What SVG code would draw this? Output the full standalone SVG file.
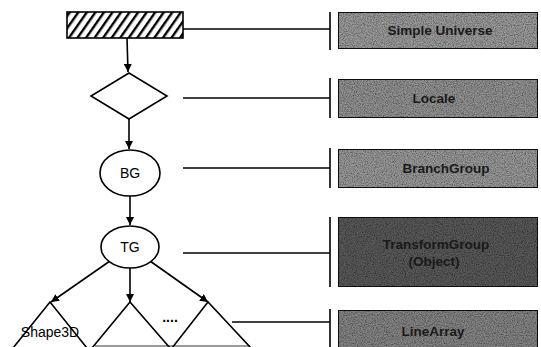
<svg xmlns="http://www.w3.org/2000/svg" width="541" height="347" viewBox="0 0 541 347">
<style>
.ln{stroke:#000;stroke-width:1.6;fill:none}
.shape{stroke:#000;stroke-width:1.6;fill:#fff}
.node{font-family:"Liberation Sans",Arial,sans-serif;font-size:14px;fill:#000;text-anchor:middle}
.lbl{font-family:"Liberation Sans",Arial,sans-serif;font-size:13.5px;font-weight:bold;fill:#1a1a1a;text-anchor:middle}
.box{stroke:#111;stroke-width:2}
.bar{stroke:#000;stroke-width:1.6}
</style>
<defs>
<pattern id="hatch" width="7" height="7" patternUnits="userSpaceOnUse" patternTransform="rotate(35)">
<rect width="7" height="7" fill="#fff"/>
<rect width="2.4" height="7" fill="#000"/>
</pattern>
<filter id="grain" x="0" y="0" width="1" height="1">
<feTurbulence type="fractalNoise" baseFrequency="0.9" numOctaves="2" seed="3" result="n"/>
<feColorMatrix in="n" type="matrix" values="0 0 0 0 0  0 0 0 0 0  0 0 0 0 0  0 0 0 1.4 -0.45" result="dark"/>
<feComposite in="dark" in2="SourceGraphic" operator="atop"/>
</filter>
<marker id="arr" viewBox="0 0 10 10" refX="10" refY="5" markerWidth="8" markerHeight="8" markerUnits="userSpaceOnUse" orient="auto">
<path d="M0,0 L10,5 L0,10 z" fill="#000"/>
</marker>
</defs>
<rect width="541" height="347" fill="#fff"/>

<g id="connectors">
<line class="ln" x1="127" y1="38" x2="128" y2="72" marker-end="url(#arr)"/>
<line class="ln" x1="129" y1="119" x2="129" y2="149" marker-end="url(#arr)"/>
<line class="ln" x1="130" y1="196" x2="130" y2="225" marker-end="url(#arr)"/>
<line class="ln" x1="110" y1="261" x2="51" y2="302" marker-end="url(#arr)"/>
<line class="ln" x1="130" y1="268" x2="130" y2="302" marker-end="url(#arr)"/>
<line class="ln" x1="150" y1="261" x2="208" y2="302" marker-end="url(#arr)"/>
<line class="ln" x1="183" y1="29" x2="330" y2="29"/>
<line class="ln" x1="183" y1="98" x2="330" y2="98"/>
<line class="ln" x1="183" y1="168" x2="330" y2="168"/>
<line class="ln" x1="183" y1="253" x2="330" y2="253"/>
<line class="ln" x1="232" y1="322" x2="330" y2="322"/>
<line class="bar" x1="330" y1="12" x2="330" y2="50"/>
<line class="bar" x1="330" y1="78" x2="330" y2="118"/>
<line class="bar" x1="330" y1="148" x2="330" y2="188"/>
<line class="bar" x1="330" y1="217" x2="330" y2="287"/>
<line class="bar" x1="330" y1="309" x2="330" y2="347"/>
</g>

<g id="universe">
<rect x="67" y="12" width="116" height="26" fill="url(#hatch)" stroke="#000" stroke-width="1.6"/>
</g>
<g id="locale">
<polygon class="shape" points="129,73 167,96 129,119 91,96"/>
</g>
<g id="bg">
<ellipse class="shape" cx="130" cy="173" rx="30" ry="23"/>
<text class="node" x="130" y="178">BG</text>
</g>
<g id="tg">
<ellipse class="shape" cx="130" cy="247" rx="29" ry="21"/>
<text class="node" x="130" y="252">TG</text>
</g>
<g id="shape1">
<path class="ln" d="M13,348 L50,302 L87,348"/>
<text class="node" x="50" y="337" style="font-size:14px">Shape3D</text>
</g>
<g id="shape2">
<path class="ln" d="M92,348 L130,302 L170,348"/>
</g>
<g id="dots">
<text class="node" x="170" y="322" style="font-size:14px;font-weight:bold">....</text>
</g>
<g id="shape3">
<path class="ln" d="M172,348 L208,302 L251,348"/>
<line x1="95" y1="346" x2="250" y2="346" stroke="#000" stroke-width="0.8"/>
</g>

<g id="lbl-universe">
<rect class="box" x="338" y="12" width="200" height="37" fill="#9c9c9c" filter="url(#grain)"/>
<text class="lbl" x="440" y="35">Simple Universe</text>
</g>
<g id="lbl-locale">
<rect class="box" x="338" y="79" width="200" height="39" fill="#939393" filter="url(#grain)"/>
<text class="lbl" x="434" y="103">Locale</text>
</g>
<g id="lbl-bg">
<rect class="box" x="338" y="149" width="200" height="39" fill="#9a9a9a" filter="url(#grain)"/>
<text class="lbl" x="446" y="173">BranchGroup</text>
</g>
<g id="lbl-tg">
<rect class="box" x="338" y="217" width="200" height="70" fill="#5a5a5a" filter="url(#grain)"/>
<text class="lbl" x="436" y="249" fill="#2a2a2a">TransformGroup</text>
<text class="lbl" x="434" y="266" fill="#2a2a2a">(Object)</text>
</g>
<g id="lbl-line">
<rect class="box" x="338" y="310" width="200" height="40" fill="#858585" filter="url(#grain)"/>
<text class="lbl" x="433" y="336">LineArray</text>
</g>
</svg>
